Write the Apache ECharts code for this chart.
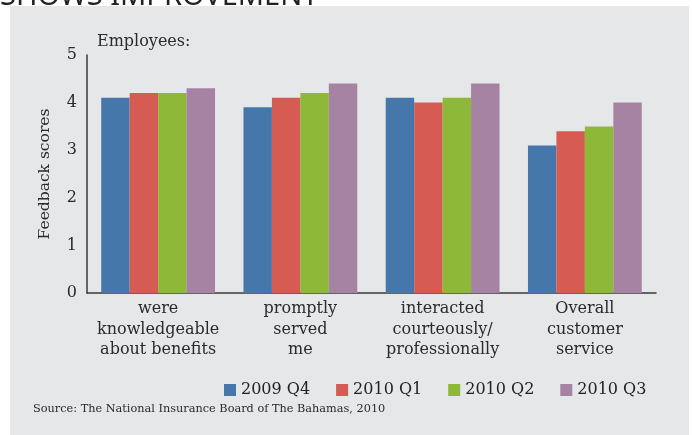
<!DOCTYPE html>
<html>
<head>
<meta charset="utf-8">
<script src="https://cdn.jsdelivr.net/npm/echarts@6/dist/echarts.min.js"></script>
<style>html,body{margin:0;padding:0;background:#fff}#c{width:692px;height:435px}</style>
</head>
<body>
<div id="c"></div>
<script>
var categories = ['were\nknowledgeable\nabout benefits', 'promptly\nserved\nme', 'interacted\ncourteously/\nprofessionally', 'Overall\ncustomer\nservice'];
var seriesNames = ['2009 Q4', '2010 Q1', '2010 Q2', '2010 Q3'];
var q2009Q4 = [4.1, 3.9, 4.1, 3.1];
var q2010Q1 = [4.2, 4.1, 4.0, 3.4];
var q2010Q2 = [4.2, 4.2, 4.1, 3.5];
var q2010Q3 = [4.3, 4.4, 4.4, 4.0];
var yTicks = [0, 1, 2, 3, 4, 5];
var colors = ['#4577ab', '#d55b53', '#8eb838', '#a683a3'];
var F = 'DejaVu Serif';

var chart = echarts.init(document.getElementById('c'));
var data = [q2009Q4, q2010Q1, q2010Q2, q2010Q3];
chart.setOption({
  backgroundColor: '#ffffff',
  animation: false,
  color: colors,
  graphic: [
    {type: 'text', z: -20, left: 0, top: -18, style: {text: 'SHOWS IMPROVEMENT', font: '29px "Noto Sans"', fill: '#222'}},
    {type: 'rect', z: -10, shape: {x: 10, y: 6, width: 679, height: 435}, style: {fill: '#e6e7e9'}},
    {type: 'text', left: 97, top: 34, style: {text: 'Employees:', font: '16px "DejaVu Serif"', fill: '#2a2a2a'}},
    {type: 'text', left: 33, top: 404, style: {text: 'Source: The National Insurance Board of The Bahamas, 2010', font: '11.3px "DejaVu Serif"', fill: '#2a2a2a'}}
  ],
  grid: {left: 87, right: 36, top: 55, bottom: 142, containLabel: false},
  legend: {
    left: 219, top: 377, itemWidth: 12, itemHeight: 12, itemGap: 26,
    icon: 'rect',
    textStyle: {fontFamily: F, fontSize: 16, color: '#222'},
    data: seriesNames
  },
  xAxis: {
    type: 'category', data: categories,
    axisLine: {lineStyle: {color: '#3a3a3a', width: 1.5}},
    axisTick: {show: false},
    axisLabel: {fontFamily: F, fontSize: 16, color: '#2a2a2a', lineHeight: 20.5, margin: 6, interval: 0}
  },
  yAxis: {
    type: 'value', min: 0, max: 5, interval: 1,
    name: 'Feedback scores', nameLocation: 'middle', nameGap: 34,
    nameTextStyle: {fontFamily: F, fontSize: 15.5, color: '#2a2a2a'},
    axisLine: {show: true, lineStyle: {color: '#3a3a3a', width: 1.5}},
    axisTick: {show: false},
    splitLine: {show: false},
    axisLabel: {fontFamily: F, fontSize: 16, color: '#2a2a2a', margin: 10,
      formatter: function (v) { return yTicks.indexOf(v) >= 0 ? String(v) : ''; }}
  },
  series: seriesNames.map(function (n, i) {
    return {name: n, type: 'bar', data: data[i], barGap: '0%', barCategoryGap: '20%'};
  })
});
</script>
</body>
</html>
